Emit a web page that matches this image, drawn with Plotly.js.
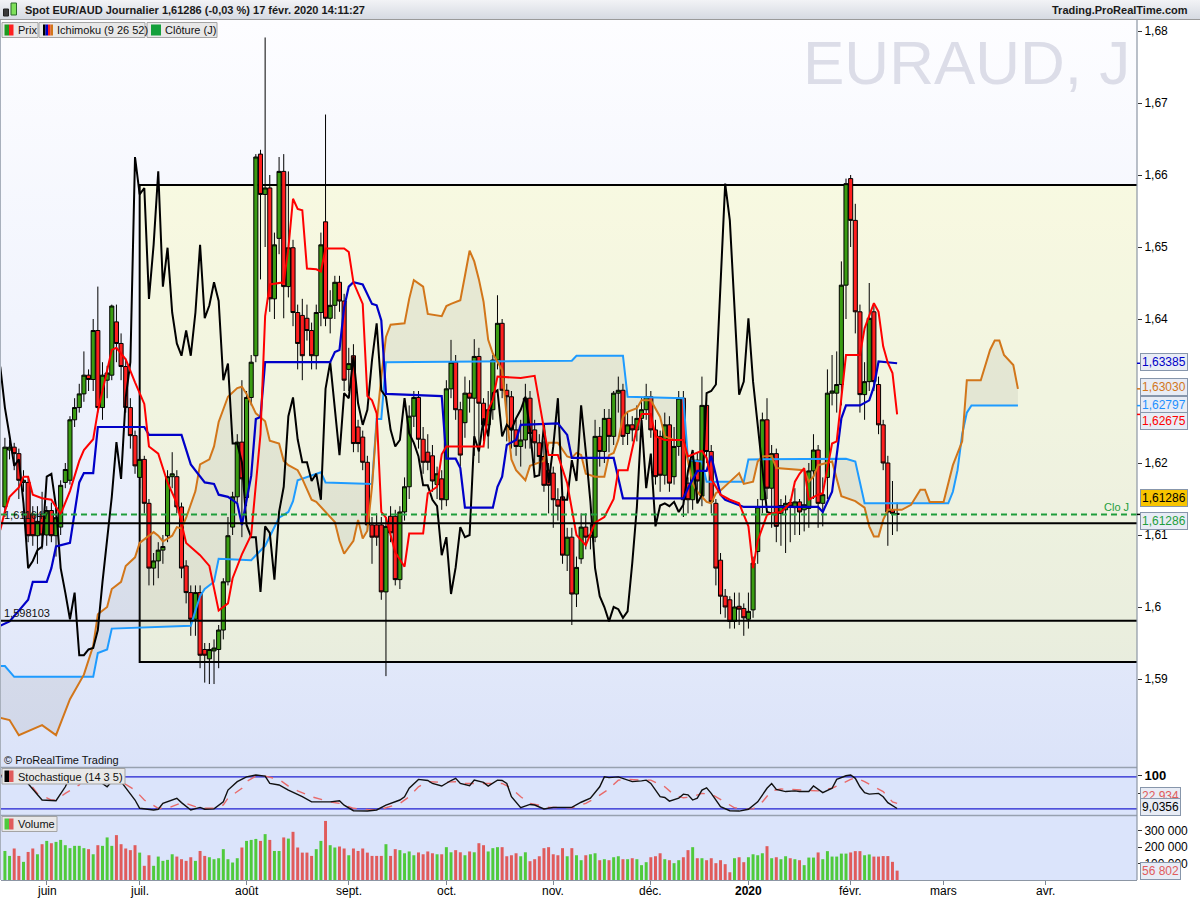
<!DOCTYPE html>
<html><head><meta charset="utf-8">
<script src="https://cdn.plot.ly/plotly-3.0.1.min.js"></script>
<style>
html,body{margin:0;padding:0;background:#fff;}
#wrap{position:relative;width:1200px;height:900px;overflow:hidden;background:#fff;}
.bg{position:absolute;}
#chart{position:absolute;left:0;top:0;width:1200px;height:900px;}
</style></head><body>
<div id="wrap">
<div class="bg" style="left:0;top:0;width:1200px;height:20px;background:linear-gradient(#f2f3f6,#d6dae2);border-bottom:1px solid #9a9a9a;box-sizing:border-box"></div>
<div class="bg" style="left:0;top:20px;width:1137px;height:747px;background:linear-gradient(#fdfdff 0%,#f1f4fd 40%,#e4eafa 80%,#dbe3f9 100%)"></div>
<div class="bg" style="left:0;top:768px;width:1137px;height:112px;background:#dbe4fb"></div>
<div id="chart"></div>
</div>
<script>
// ---- daily bars (trading-day index 0 = 21 May 2019, 192 = 17 Feb 2020) ----
const open = [
1.6139,1.6218,1.6222,1.6213,1.6173,1.6173,1.6129,1.6099,1.6129,1.6100,
1.6134,1.6099,1.6111,1.6173,1.6176,1.6260,1.6277,1.6296,1.6322,1.6316,
1.6384,1.6277,1.6315,1.6322,1.6396,1.6366,1.6334,1.6277,1.6238,1.6180,
1.6205,1.6144,1.6054,1.6064,1.6079,1.6099,1.6181,1.6181,1.6139,1.6057,
1.6020,1.5983,1.6020,1.5941,1.5928,1.5939,1.5941,1.5968,1.6035,1.6111,
1.6153,1.6229,1.6152,1.6291,1.6349,1.6629,1.6573,1.6582,1.6428,1.6512,
1.6605,1.6445,1.6499,1.6409,1.6405,1.6401,1.6384,1.6349,1.6409,1.6535,
1.6401,1.6419,1.6451,1.6425,1.6330,1.6349,1.6250,1.6236,1.6201,1.6114,
1.6114,1.6114,1.6021,1.6126,1.6126,1.6038,1.6132,1.6167,1.6265,1.6291,
1.6233,1.6215,1.6210,1.6170,1.6178,1.6149,1.6303,1.6340,1.6274,1.6256,
1.6297,1.6290,1.6348,1.6283,1.6253,1.6274,1.6343,1.6394,1.6301,1.6292,
1.6246,1.6223,1.6232,1.6290,1.6246,1.6228,1.6209,1.6190,1.6186,1.6149,
1.6153,1.6072,1.6097,1.6018,1.6067,1.6111,1.6097,1.6097,1.6237,1.6216,
1.6262,1.6237,1.6297,1.6301,1.6241,1.6253,1.6246,1.6262,1.6274,1.6292,
1.6246,1.6237,1.6183,1.6253,1.6181,1.6223,1.6290,1.6172,1.6149,1.6204,
1.6154,1.6280,1.6216,1.6144,1.6065,1.6015,1.6010,1.5980,1.6001,1.5998,
1.5983,1.5996,1.6077,1.6149,1.6260,1.6165,1.6213,1.6130,1.6135,1.6145,
1.6138,1.6146,1.6135,1.6137,1.6189,1.6218,1.6144,1.6180,1.6297,1.6297,
1.6309,1.6447,1.6595,1.6537,1.6410,1.6295,1.6313,1.6410,1.6309,1.6253,
1.6200,1.6135,1.6130];
const high = [
1.6235,1.6232,1.6228,1.6220,1.6190,1.6180,1.6140,1.6140,1.6160,1.6140,
1.6145,1.6135,1.6176,1.6200,1.6265,1.6290,1.6310,1.6355,1.6330,1.6400,
1.6445,1.6340,1.6335,1.6420,1.6420,1.6380,1.6345,1.6290,1.6245,1.6210,
1.6210,1.6150,1.6075,1.6090,1.6100,1.6190,1.6215,1.6190,1.6145,1.6065,
1.6030,1.6030,1.6030,1.5950,1.5950,1.5955,1.5975,1.6040,1.6125,1.6160,
1.6240,1.6315,1.6300,1.6350,1.6629,1.6635,1.6791,1.6600,1.6520,1.6625,
1.6629,1.6605,1.6510,1.6420,1.6428,1.6420,1.6395,1.6420,1.6520,1.6684,
1.6440,1.6460,1.6460,1.6435,1.6360,1.6365,1.6260,1.6245,1.6210,1.6125,
1.6130,1.6125,1.6125,1.6140,1.6135,1.6140,1.6180,1.6280,1.6300,1.6300,
1.6250,1.6240,1.6225,1.6195,1.6190,1.6315,1.6371,1.6350,1.6285,1.6320,
1.6315,1.6372,1.6360,1.6290,1.6300,1.6350,1.6433,1.6400,1.6310,1.6300,
1.6260,1.6260,1.6310,1.6300,1.6260,1.6240,1.6230,1.6200,1.6195,1.6165,
1.6160,1.6110,1.6110,1.6070,1.6130,1.6130,1.6115,1.6260,1.6250,1.6275,
1.6275,1.6300,1.6320,1.6310,1.6270,1.6265,1.6280,1.6290,1.6310,1.6300,
1.6260,1.6245,1.6270,1.6265,1.6250,1.6300,1.6300,1.6180,1.6215,1.6215,
1.6320,1.6290,1.6225,1.6150,1.6075,1.6025,1.6015,1.6020,1.6020,1.6005,
1.6020,1.6070,1.6150,1.6270,1.6290,1.6225,1.6220,1.6150,1.6155,1.6150,
1.6165,1.6150,1.6190,1.6200,1.6240,1.6225,1.6180,1.6330,1.6350,1.6355,
1.6480,1.6595,1.6600,1.6560,1.6420,1.6340,1.6450,1.6420,1.6320,1.6260,
1.6210,1.6175,1.6145];
const low = [
1.6125,1.6205,1.6190,1.6150,1.6160,1.6090,1.6085,1.6060,1.6080,1.6085,
1.6090,1.6070,1.6100,1.6165,1.6170,1.6250,1.6270,1.6285,1.6300,1.6300,
1.6270,1.6260,1.6290,1.6315,1.6340,1.6315,1.6270,1.6220,1.6185,1.6165,
1.6130,1.6030,1.6030,1.6040,1.6060,1.6090,1.6165,1.6130,1.6040,1.6005,
1.5960,1.5960,1.5915,1.5895,1.5893,1.5893,1.5915,1.5955,1.6030,1.6100,
1.6145,1.6097,1.6140,1.6280,1.6340,1.6455,1.6500,1.6410,1.6400,1.6490,
1.6401,1.6430,1.6390,1.6330,1.6315,1.6370,1.6330,1.6330,1.6390,1.6390,
1.6380,1.6400,1.6410,1.6300,1.6300,1.6215,1.6215,1.6190,1.6105,1.6060,
1.6085,1.6010,1.5904,1.6090,1.6030,1.6025,1.6120,1.6150,1.6250,1.6220,
1.6185,1.6190,1.6160,1.6150,1.6135,1.6140,1.6290,1.6260,1.6195,1.6235,
1.6270,1.6210,1.6200,1.6230,1.6220,1.6260,1.6330,1.6290,1.6230,1.6220,
1.6210,1.6195,1.6220,1.6220,1.6200,1.6185,1.6160,1.6130,1.6110,1.6120,
1.6060,1.6050,1.5975,1.6000,1.6060,1.6080,1.6080,1.6090,1.6195,1.6200,
1.6215,1.6225,1.6270,1.6225,1.6225,1.6230,1.6230,1.6250,1.6260,1.6235,
1.6170,1.6160,1.6170,1.6160,1.6170,1.6210,1.6125,1.6130,1.6135,1.6150,
1.6140,1.6200,1.6130,1.6030,1.5990,1.5985,1.5970,1.5970,1.5975,1.5960,
1.5970,1.5985,1.6060,1.6130,1.6150,1.6110,1.6090,1.6085,1.6075,1.6090,
1.6100,1.6100,1.6105,1.6110,1.6150,1.6110,1.6112,1.6150,1.6280,1.6270,
1.6280,1.6400,1.6500,1.6380,1.6270,1.6260,1.6300,1.6300,1.6240,1.6190,
1.6085,1.6100,1.6105];
const close = [
1.6222,1.6222,1.6213,1.6176,1.6176,1.6099,1.6099,1.6119,1.6100,1.6134,
1.6099,1.6124,1.6169,1.6191,1.6260,1.6277,1.6296,1.6322,1.6316,1.6384,
1.6277,1.6322,1.6325,1.6418,1.6366,1.6334,1.6277,1.6238,1.6196,1.6205,
1.6144,1.6054,1.6064,1.6079,1.6084,1.6181,1.6185,1.6139,1.6054,1.6020,
1.5983,1.6020,1.5933,1.5933,1.5941,1.5943,1.5968,1.6035,1.6099,1.6153,
1.6229,1.6178,1.6291,1.6340,1.6625,1.6573,1.6582,1.6428,1.6503,1.6605,
1.6445,1.6499,1.6409,1.6366,1.6349,1.6384,1.6349,1.6409,1.6503,1.6401,
1.6419,1.6451,1.6425,1.6315,1.6338,1.6227,1.6227,1.6201,1.6114,1.6097,
1.6097,1.6021,1.6112,1.6103,1.6038,1.6132,1.6167,1.6265,1.6291,1.6233,
1.6201,1.6201,1.6175,1.6185,1.6149,1.6303,1.6340,1.6274,1.6211,1.6297,
1.6290,1.6348,1.6283,1.6253,1.6274,1.6343,1.6394,1.6301,1.6292,1.6246,
1.6223,1.6232,1.6290,1.6241,1.6228,1.6209,1.6169,1.6169,1.6149,1.6140,
1.6072,1.6097,1.6018,1.6055,1.6111,1.6097,1.6100,1.6237,1.6216,1.6262,
1.6237,1.6297,1.6301,1.6237,1.6253,1.6246,1.6262,1.6274,1.6292,1.6246,
1.6181,1.6183,1.6253,1.6172,1.6223,1.6290,1.6149,1.6149,1.6204,1.6175,
1.6280,1.6216,1.6146,1.6054,1.6015,1.6000,1.5980,1.6000,1.5997,1.5985,
1.5994,1.6061,1.6139,1.6260,1.6165,1.6213,1.6112,1.6141,1.6144,1.6140,
1.6146,1.6132,1.6142,1.6189,1.6218,1.6144,1.6156,1.6297,1.6300,1.6309,
1.6447,1.6588,1.6537,1.6410,1.6295,1.6313,1.6401,1.6313,1.6253,1.6200,
1.6132,1.6130,1.61286];
const volume = [
176000,146000,191000,146000,110000,170000,191000,156000,217000,237000,
223000,231000,243000,211000,193000,207000,207000,193000,187000,156000,
211000,207000,258000,207000,272000,217000,191000,181000,211000,166000,
86000,150000,86000,142000,116000,122000,156000,142000,126000,116000,
138000,116000,176000,146000,138000,126000,132000,187000,126000,106000,
132000,197000,237000,243000,249000,237000,278000,243000,176000,176000,
258000,251000,292000,197000,166000,166000,146000,187000,237000,358000,
211000,197000,203000,191000,150000,191000,176000,191000,166000,146000,
146000,146000,217000,146000,187000,
181000,162000,173000,150000,167000,156000,173000,162000,156000,156000,
199000,168000,181000,168000,150000,173000,168000,223000,211000,173000,
193000,199000,199000,144000,150000,162000,144000,168000,114000,126000,
144000,193000,199000,156000,150000,193000,144000,193000,150000,120000,
150000,156000,162000,120000,126000,120000,138000,144000,126000,126000,
132000,126000,90000,108000,138000,144000,162000,126000,120000,102000,
120000,138000,181000,199000,132000,132000,120000,132000,102000,120000,
96000,47000,132000,138000,108000,138000,156000,150000,162000,205000,
132000,138000,126000,144000,132000,126000,120000,
90000,136000,136000,167000,126000,175000,142000,142000,160000,160000,
167000,175000,175000,150000,155000,142000,142000,145000,145000,110000,56802];

// ---- Ichimoku (9 26 52) lines: [bar index, value] ----
const tenkan = [[-1,1.6107],[0,1.6133],[1,1.6153],[3,1.6166],[4,1.6181],[5,1.6181],[6,1.6156],[8,1.6151],[10,1.6149],[12,1.6129],[14,1.6161],[16,1.6203],[17,1.6218],[19,1.6233],[20,1.6272],[22,1.6327],[23,1.6357],[24,1.6360],[26,1.6344],[28,1.6312],[30,1.6282],[31,1.6223],[33,1.6213],[35,1.6173],[37,1.6144],[39,1.6089],[42,1.6072],[44,1.6057],[46,1.5995],[48,1.6005],[49,1.6040],[51,1.6073],[53,1.6100],[55,1.6240],[56,1.6404],[57,1.6448],[60,1.6451],[61,1.6498],[62,1.6567],[63,1.6553],[64,1.6551],[65,1.6470],[67,1.6469],[68,1.6466],[69,1.6498],[73,1.6498],[74,1.6493],[75,1.6451],[77,1.6421],[78,1.6293],[79,1.6287],[80,1.6269],[81,1.6132],[82,1.6124],[84,1.6076],[86,1.6056],[87,1.6102],[90,1.6102],[91,1.6158],[93,1.6167],[94,1.6212],[95,1.6223],[103,1.6223],[104,1.6274],[105,1.6288],[106,1.6320],[111,1.6318],[114,1.6321],[116,1.6246],[117,1.6211],[119,1.6211],[121,1.6172],[123,1.6100],[125,1.6086],[127,1.6117],[129,1.6125],[131,1.6150],[132,1.6190],[134,1.6190],[136,1.6249],[137,1.6268],[139,1.6268],[140,1.6237],[142,1.6232],[146,1.6232],[147,1.6209],[150,1.6217],[151,1.6207],[152,1.6178],[154,1.6156],[156,1.6149],[158,1.6144],[160,1.6112],[161,1.6054],[162,1.6092],[164,1.6128],[165,1.6130],[167,1.6132],[169,1.6144],[170,1.6174],[171,1.6185],[172,1.6193],[173,1.6149],[175,1.6156],[176,1.6158],[177,1.6191],[178,1.6227],[179,1.6230],[181,1.6350],[184,1.6350],[185,1.6387],[187,1.6422],[188,1.6410],[189,1.6362],[190,1.6339],[191,1.6325],[192,1.62675]];
const kijun = [[-1,1.5974],[1,1.5980],[3,1.5995],[5,1.6010],[6,1.6035],[9,1.6035],[10,1.6054],[11,1.6084],[14,1.6089],[15,1.6129],[16,1.6173],[17,1.6186],[19,1.6186],[20,1.6250],[30,1.6250],[31,1.6239],[38,1.6239],[40,1.6198],[43,1.6173],[45,1.6171],[46,1.6156],[48,1.6153],[50,1.6144],[51,1.6114],[53,1.6182],[54,1.6261],[55,1.6264],[56,1.6340],[70,1.6340],[71,1.6354],[72,1.6357],[73,1.6416],[74,1.6445],[75,1.6451],[77,1.6448],[79,1.6421],[80,1.6419],[81,1.6398],[82,1.6296],[94,1.6293],[95,1.6206],[97,1.6206],[98,1.6193],[99,1.6138],[105,1.6138],[106,1.6167],[107,1.6181],[108,1.6225],[110,1.6232],[111,1.6253],[119,1.6255],[121,1.6239],[122,1.6207],[131,1.6207],[133,1.6151],[146,1.6151],[147,1.6165],[149,1.6189],[151,1.6189],[152,1.6210],[154,1.6156],[155,1.6149],[159,1.6139],[175,1.6139],[176,1.6132],[178,1.6160],[180,1.6262],[181,1.6280],[184,1.6280],[186,1.6287],[187,1.6306],[188,1.6341],[192,1.63385]];
const senkouA = [[-1,1.5918],[0,1.5918],[2,1.5903],[19,1.5903],[20,1.5936],[22,1.5941],[23,1.5970],[40,1.5974],[41,1.5995],[42,1.6015],[43,1.6025],[45,1.6035],[46,1.6067],[53,1.6065],[56,1.6085],[59,1.6124],[61,1.6132],[62,1.6147],[63,1.6176],[67,1.6185],[68,1.6187],[69,1.6173],[79,1.6171],[80,1.6261],[81,1.6261],[82,1.6340],[122,1.6342],[123,1.6349],[133,1.6349],[134,1.6292],[146,1.6290],[147,1.6204],[150,1.6202],[151,1.6174],[159,1.6174],[160,1.6205],[181,1.6206],[183,1.6202],[185,1.6144],[203,1.6144],[204,1.6160],[205,1.6190],[206,1.6240],[207,1.6270],[208,1.6280],[218,1.62797]];
const senkouB = [[-1,1.5846],[1,1.5843],[3,1.5822],[8,1.5836],[11,1.5822],[14,1.5872],[17,1.5906],[19,1.5946],[20,1.5990],[22,1.6000],[23,1.6025],[25,1.6035],[26,1.6057],[28,1.6069],[29,1.6089],[31,1.6099],[32,1.6104],[33,1.6099],[34,1.6091],[36,1.6099],[37,1.6111],[38,1.6109],[39,1.6124],[41,1.6161],[42,1.6198],[44,1.6205],[45,1.6223],[46,1.6257],[48,1.6292],[50,1.6304],[51,1.6306],[52,1.6296],[54,1.6269],[56,1.6258],[57,1.6231],[59,1.6227],[60,1.6203],[61,1.6197],[63,1.6190],[64,1.6178],[66,1.6149],[67,1.6146],[69,1.6132],[71,1.6118],[72,1.6092],[73,1.6074],[75,1.6092],[76,1.6121],[77,1.6095],[78,1.6106],[79,1.6167],[80,1.6255],[81,1.6320],[82,1.6375],[83,1.6392],[86,1.6394],[87,1.6428],[88,1.6454],[90,1.6445],[91,1.6407],[94,1.6404],[95,1.6418],[96,1.6421],[98,1.6426],[99,1.6460],[100,1.6495],[101,1.6480],[102,1.6455],[103,1.6424],[104,1.6371],[105,1.6352],[107,1.6329],[108,1.6264],[109,1.6205],[110,1.6190],[112,1.6176],[113,1.6196],[116,1.6203],[117,1.6228],[119,1.6228],[121,1.6209],[122,1.6207],[123,1.6214],[124,1.6211],[125,1.6185],[127,1.6181],[129,1.6181],[130,1.6211],[131,1.6214],[132,1.6232],[133,1.6264],[134,1.6271],[136,1.6276],[137,1.6287],[139,1.6287],[141,1.6264],[142,1.6237],[144,1.6232],[146,1.6232],[147,1.6204],[148,1.6172],[149,1.6160],[151,1.6146],[152,1.6144],[153,1.6158],[154,1.6162],[156,1.6174],[157,1.6179],[158,1.6186],[159,1.6171],[161,1.6174],[162,1.6202],[163,1.6209],[165,1.6210],[166,1.6193],[172,1.6190],[173,1.6174],[174,1.6181],[175,1.6197],[178,1.6202],[179,1.6178],[180,1.6154],[183,1.6147],[185,1.6138],[186,1.6112],[187,1.6098],[188,1.6098],[189,1.6121],[190,1.6135],[193,1.6135],[195,1.6142],[197,1.6163],[198,1.6163],[199,1.6146],[202,1.6146],[204,1.6197],[206,1.6230],[207,1.6315],[210,1.6315],[212,1.6357],[213,1.6370],[214,1.6370],[215,1.6350],[217,1.6336],[218,1.6303]];

// ---- Stochastique (14 3 5) ----
const stochK = [[-1,98],[3,97],[4,91],[8,32],[11,30],[13,68],[14,95],[16,100],[19,95],[21,77],[22,68],[23,82],[25,82],[28,32],[29,9.5],[32,5],[33,7],[34,23],[37,36.7],[38,25],[40,5],[42,12],[43,7],[45,8],[47,27],[48,59],[50,82],[52,95],[54,100],[56,97],[57,77],[59,73],[61,59],[64,41],[66,27],[70,27],[72,30],[73,18],[75,3],[78,2],[80,5],[82,18],[84,27],[85,32],[86,41],[87,64],[89,88],[91,85],[92,77],[94,70],[96,85],[97,91],[98,77],[100,71],[101,86],[103,80],[104,70],[106,86],[107,85],[108,77],[109,41],[111,11],[113,20],[114,18.5],[116,7.6],[118,12],[122,12],[124,26],[126,37],[128,68],[129,95],[130,93],[132,95],[133,91],[135,82],[137,84],[138,86],[139,77],[141,41],[142,39],[143,29],[145,37],[146,48],[147,46],[148,32],[149,37],[150,59],[151,65],[152,50],[154,14],[156,3],[158,2],[160,7],[162,27],[164,64],[165,77],[166,61],[168,55],[170,57],[171,55],[173,55],[174,70],[176,52],[178,64],[179,88],[181,98],[182,100],[183,91],[184,68],[185,52],[186,48],[188,50],[189,41],[190,25],[191,16],[192,9.0356]];
const stochD = [[-1,100],[3,95],[5,82],[7,50],[10,32],[11,32],[13,50],[16,73],[17,95],[20,100],[25,82],[28,59],[30,32],[33,9.5],[35,9.5],[38,24.7],[39,23],[42,9.5],[45,9.5],[47,18.5],[48,37],[51,64],[52,82],[54,97],[56,97],[59,88],[61,70],[63,57],[66,41],[70,27],[72,23],[75,9.5],[79,5],[81,7],[85,23],[87,41],[89,68],[91,82],[94,80],[97,82],[99,77],[102,77],[105,77],[107,77],[109,64],[111,41],[113,23],[115,17],[117,12],[122,11],[125,23],[127,37],[130,62],[132,86],[134,88],[137,86],[139,86],[142,68],[144,46],[146,38],[148,41],[150,50],[152,48],[155,26],[157,11],[159,7],[161,8],[163,27],[165,57],[167,62],[171,59],[173,57],[175,57],[178,64],[180,77],[182,88],[183,93],[185,82],[187,68],[189,55],[191,27],[192,22.934]];
const stochLevels = [95, 8];

// ---- axis labels and drawn levels ----
const monthIdx = [9,29,52,74,95,118,139,160,182,202,224];
const monthLabels = ['juin','juil.','août','sept.','oct.','nov.','déc.','<b>2020</b>','févr.','mars','avr.'];
const priceTicks = [1.59,1.60,1.61,1.62,1.64,1.65,1.66,1.67,1.68];
const priceTickText = ['1,59','1,6','1,61','1,62','1,64','1,65','1,66','1,67','1,68'];
const volTicks = [100000,200000,300000];
const volTickText = ['100 000','200 000','300 000'];
const zoneStart = 29, zoneTop = 1.658611, zoneBottom = 1.592361;
const levelA = 1.611647, levelB = 1.598103;

// ---------------------------------------------------------------
const N = close.length;
const idx = close.map((_, i) => i);
const lastClose = close[N - 1];
const xs = a => a.map(p => p[0]);
const ys = a => a.map(p => p[1]);
const last = a => a[a.length - 1][1];

const chikX = [], chikY = [];
for (let j = -1; j + 26 < N; j++) { chikX.push(j); chikY.push(close[j + 26]); }

const GREEN = '#3a9c12', RED = '#ff1f1f';
const volColors = close.map((c, i) => c >= open[i] ? '#4fca3c' : '#e05b5b');

const traces = [
  {type:'candlestick', x: idx, open, high, low, close, xaxis:'x', yaxis:'y',
   increasing:{line:{color:'#000', width:1}, fillcolor:GREEN},
   decreasing:{line:{color:'#000', width:1}, fillcolor:RED},
   whiskerwidth:0, hoverinfo:'skip', showlegend:false},
  {type:'scatter', mode:'lines', x: xs(senkouA), y: ys(senkouA), yaxis:'y', line:{color:'#1e9bff', width:2}, hoverinfo:'skip'},
  {type:'scatter', mode:'lines', x: xs(senkouB), y: ys(senkouB), yaxis:'y', line:{color:'#d2761a', width:2}, hoverinfo:'skip'},
  {type:'scatter', mode:'lines', x: chikX, y: chikY, yaxis:'y', line:{color:'#000', width:2}, hoverinfo:'skip'},
  {type:'scatter', mode:'lines', x: xs(kijun), y: ys(kijun), yaxis:'y', line:{color:'#0000c8', width:2.2}, hoverinfo:'skip'},
  {type:'scatter', mode:'lines', x: xs(tenkan), y: ys(tenkan), yaxis:'y', line:{color:'#ff0000', width:2}, hoverinfo:'skip'},
  {type:'scatter', mode:'lines', x: xs(stochD), y: ys(stochD), yaxis:'y2', line:{color:'#e86a6a', width:1.4, dash:'dash'}, hoverinfo:'skip'},
  {type:'scatter', mode:'lines', x: xs(stochK), y: ys(stochK), yaxis:'y2', line:{color:'#111', width:1.4}, hoverinfo:'skip'},
  {type:'bar', x: idx, y: volume, yaxis:'y3', marker:{color: volColors, line:{width:0}}, hoverinfo:'skip'}
];

// pixel helpers for decorations (plot area: x 1..1137, y 20..880)
const PX = px => (px - 1) / 1136;
const PY = py => (880 - py) / 860;

const cloudPath = 'M' + senkouA.map(p => p[0] + ',' + p[1]).join('L') + 'L' +
  senkouB.slice().reverse().map(p => p[0] + ',' + p[1]).join('L') + 'Z';

function rect(x0, y0, x1, y1, fill, line) {
  return {type:'rect', xref:'paper', yref:'paper', x0:PX(x0), x1:PX(x1), y0:PY(y1), y1:PY(y0),
    fillcolor:fill, line:{color: line || fill, width: line ? 1 : 0}, layer:'above'};
}
function hline(yref, y, color, width, dash, layer) {
  return {type:'line', xref:'paper', x0:0, x1:1, yref, y0:y, y1:y,
    line:{color, width, dash: dash || 'solid'}, layer: layer || 'above'};
}
function tick(y, color) {
  return {type:'line', xref:'paper', x0:1, x1:1 + 4/1136, yref:'y', y0:y, y1:y, line:{color, width:1.5}, layer:'above'};
}

const shapes = [
  {type:'rect', xref:'x', yref:'y', x0:zoneStart, x1:400, y0:zoneBottom, y1:zoneTop,
   fillcolor:'rgba(250,250,150,0.28)', line:{color:'#000', width:2}, layer:'below'},
  {type:'path', xref:'x', yref:'y', path: cloudPath, fillcolor:'rgba(110,110,100,0.10)', line:{width:0}, layer:'below'},
  hline('y', levelA, '#000', 2),
  hline('y', levelB, '#000', 2),
  hline('y', lastClose, '#1f9e3c', 2, '6px,4px'),
  hline('y2', stochLevels[0], '#2020d0', 1.2, 'solid', 'below'),
  hline('y2', stochLevels[1], '#2020d0', 1.2, 'solid', 'below'),
  // panel borders
  {type:'line', xref:'paper', yref:'paper', x0:0, x1:1, y0:PY(767.5), y1:PY(767.5), line:{color:'#97a1b0', width:1.5}, layer:'above'},
  {type:'line', xref:'paper', yref:'paper', x0:0, x1:1, y0:PY(815.5), y1:PY(815.5), line:{color:'#97a1b0', width:1.5}, layer:'above'},
  {type:'line', xref:'paper', yref:'paper', x0:1, x1:1, y0:0, y1:1, line:{color:'#8c96a4', width:1.2}, layer:'above'},
  {type:'line', xref:'paper', yref:'paper', x0:PX(0.5), x1:PX(0.5), y0:0, y1:1, line:{color:'#a8b0bc', width:1}, layer:'above'},
  // legend boxes
  rect(2, 22.5, 38, 37.5, '#e8e8e8', '#a4a4a4'),
  rect(4.5, 24.5, 9, 35.5, '#1f9a1f'), rect(9, 24.5, 13.5, 35.5, '#ff2020'),
  rect(39, 22.5, 145, 37.5, '#e8e8e8', '#a4a4a4'),
  rect(43, 24.5, 45.5, 35.5, '#000'), rect(45.5, 24.5, 48, 35.5, '#0000c8'),
  rect(48, 24.5, 50.5, 35.5, '#ff2020'), rect(50.5, 24.5, 53, 35.5, '#d2761a'),
  rect(147, 22.5, 217, 37.5, '#e8e8e8', '#a4a4a4'),
  rect(151, 24.5, 161, 35.5, '#14a03c'),
  rect(2, 768.5, 125, 784, '#e8e8e8', '#a4a4a4'),
  rect(4.5, 770.5, 9, 782, '#000'), rect(9, 770.5, 13.5, 782, '#e05b5b'),
  rect(2, 816.5, 57, 831.5, '#e8e8e8', '#a4a4a4'),
  rect(4.5, 818.5, 9, 829.5, '#4fca3c'), rect(9, 818.5, 13.5, 829.5, '#e05b5b'),
  // header icon
  rect(3.5, 9, 8.5, 16, '#3a3a3a', '#222'), rect(11, 3, 16.5, 15, '#7ee05a', '#2a6a2a'),
  // coloured ticks next to value boxes
  tick(last(kijun), '#0000c8'), tick(last(senkouB), '#d2761a'),
  tick(last(senkouA), '#1e9bff'), tick(last(tenkan), '#ff0000'), tick(lastClose, '#000')
];

const FF = 'Liberation Sans, Arial, sans-serif';
function txt(px, py, text, o) {
  o = o || {};
  return Object.assign({xref:'paper', yref:'paper', x:PX(px), y:PY(py), text, showarrow:false,
    xanchor:'left', yanchor:'middle', font:{size:11, color:'#111', family:FF}}, o);
}
function valBox(yref, y, text, color, yshift, bg) {
  return {xref:'paper', x:1, xanchor:'left', xshift:3, yref, y, yanchor:'middle', yshift,
    text, showarrow:false, font:{size:12, color, family:FF},
    bgcolor: bg || '#e8ecf5', bordercolor:'#8796ab', borderwidth:1, borderpad:1};
}
const fmt = (v, d) => v.toFixed(d).replace('.', ',');

const annotations = [
  txt(23, 10, '<b>Spot EUR/AUD Journalier 1,61286 (-0,03 %) 17 févr. 2020 14:11:27</b>', {font:{size:11, color:'#1a1a1a', family:FF}}),
  txt(1190, 10, '<b>Trading.ProRealTime.com</b>', {xanchor:'right', font:{size:11, color:'#1a1a1a', family:FF}}),
  txt(966, 62, 'EURAUD, J', {xanchor:'center', font:{size:62, color:'#dcdde8', family:FF}}),
  txt(16, 30, 'Prix'),
  txt(55, 30, 'Ichimoku (9 26 52)'),
  txt(163, 30, 'Clôture (J)'),
  txt(16, 776.5, 'Stochastique (14 3 5)'),
  txt(16, 824, 'Volume'),
  txt(2, 760, '© ProRealTime Trading'),
  txt(2, 613, fmt(levelB, 6)),
  txt(2, 515, fmt(levelA, 6)),
  txt(1102, 507, 'Clo J', {font:{size:11, color:'#1f9e3c', family:FF}}),
  valBox('y', last(kijun), fmt(last(kijun), 5), '#0000c8', 1),
  valBox('y', last(senkouB), fmt(last(senkouB), 5), '#d2761a', 2),
  valBox('y', last(senkouA), fmt(last(senkouA), 5), '#1e90ff', 1),
  valBox('y', last(tenkan), fmt(last(tenkan), 5), '#ff0000', -7),
  valBox('y', lastClose, fmt(lastClose, 5), '#000', 16, '#f8c400'),
  valBox('y', lastClose, fmt(lastClose, 5), '#1f9e3c', -7),
  valBox('y2', last(stochD), fmt(last(stochD), 3), '#e05b5b', 7),
  valBox('y2', last(stochK), fmt(last(stochK), 4), '#000', 1.5),
  valBox('y3', volume[N - 1], '56 802', '#e05b5b', 0)
];
// month labels under the time axis
monthIdx.forEach((m, k) => annotations.push({xref:'x', x:m, yref:'paper', y:PY(890.5), yanchor:'middle',
  xanchor:'center', text: monthLabels[k], showarrow:false, font:{size:12, color:'#000', family:FF}}));

const axisFont = {size:12, color:'#000', family:FF};
const layout = {
  width:1200, height:900,
  margin:{l:1, r:63, t:20, b:20, pad:0},
  paper_bgcolor:'rgba(0,0,0,0)', plot_bgcolor:'rgba(0,0,0,0)',
  showlegend:false, hovermode:false,
  boxgap:0.12, boxgroupgap:0, bargap:0.36,
  font: axisFont,
  xaxis:{range:[-0.84, 243.62], tickmode:'array', tickvals: monthIdx, showticklabels:false,
    ticks:'outside', ticklen:4, tickcolor:'#7d8794', showgrid:false, zeroline:false,
    showline:true, linecolor:'#8c96a4', linewidth:1.2, anchor:'y3', rangeslider:{visible:false},
    fixedrange:true},
  yaxis:{domain:[PY(767), 1], range:[1.577778, 1.681528], side:'right', tickmode:'array',
    tickvals: priceTicks, ticktext: priceTickText, ticks:'outside', ticklen:4, tickcolor:'#333',
    showgrid:false, zeroline:false, showline:false, anchor:'x', tickfont: axisFont, fixedrange:true},
  yaxis2:{domain:[PY(815), PY(768)], range:[-8.68, 119.02], side:'right', tickmode:'array',
    tickvals:[100, 50], ticktext:['<b>100</b>', '50'], ticks:'outside', ticklen:4, tickcolor:'#333',
    showgrid:false, zeroline:false, showline:false, anchor:'x', tickfont:{size:13, color:'#000', family:FF}, fixedrange:true},
  yaxis3:{domain:[0, PY(816)], range:[0, 387879], side:'right', tickmode:'array',
    tickvals: volTicks, ticktext: volTickText, ticks:'outside', ticklen:4, tickcolor:'#333',
    showgrid:false, zeroline:false, showline:false, anchor:'x', tickfont: axisFont, fixedrange:true},
  shapes, annotations
};

Plotly.newPlot('chart', traces, layout, {staticPlot:true, displayModeBar:false});
</script>
</body></html>
